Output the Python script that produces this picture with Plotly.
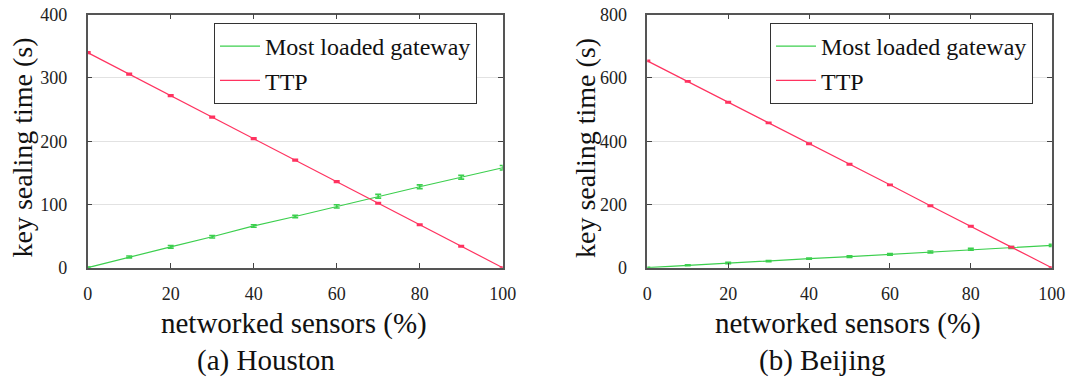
import plotly.graph_objects as go

sensors = [0, 10, 20, 30, 40, 50, 60, 70, 80, 90, 100]

houston_gateway = [0, 17, 33, 49, 66, 81, 97, 113, 128, 143, 158]
houston_gateway_err = [1, 1.5, 2, 2, 2, 2, 2.5, 3, 3, 3, 3.5]
houston_ttp = [340, 306, 272, 238, 204, 170, 136, 102, 68, 34, 0]
houston_ttp_err = [1.2, 1.2, 1.2, 1.2, 1.2, 1.2, 1.2, 1.2, 1.2, 1.2, 1.2]

beijing_gateway = [0, 7.5, 15, 21, 28.5, 35, 42, 50, 58, 64, 70.5]
beijing_gateway_err = [1, 1.5, 2, 2, 2, 2.5, 2.5, 3, 3, 3, 3.5]
beijing_ttp = [654, 589, 523, 458, 392, 327, 262, 196, 131, 65, 0]
beijing_ttp_err = [2, 2, 2, 2, 2, 2, 2, 2, 2, 2, 2]

GREEN = "#3ccf4e"
RED = "#ff3360"
FONT = "Liberation Serif"
W, H = 1077, 379

fig = go.Figure()

def add(x, y, err, color, name, xa, ya, legend, show):
    fig.add_trace(go.Scatter(
        x=x, y=y, mode="lines", name=name,
        line=dict(color=color, width=1.2),
        error_y=dict(type="data", array=err, visible=True, color=color,
                     thickness=1.6, width=3),
        xaxis=xa, yaxis=ya, legend=legend, showlegend=show,
    ))

add(sensors, houston_gateway, houston_gateway_err, GREEN, "Most loaded gateway", "x", "y", "legend", True)
add(sensors, houston_ttp, houston_ttp_err, RED, "TTP", "x", "y", "legend", True)
add(sensors, beijing_gateway, beijing_gateway_err, GREEN, "Most loaded gateway", "x2", "y2", "legend2", True)
add(sensors, beijing_ttp, beijing_ttp_err, RED, "TTP", "x2", "y2", "legend2", True)

ydom = [1 - 267.7 / H, 1 - 14.7 / H]
axis_common = dict(
    showline=True, linecolor="#555555", linewidth=1.5, mirror="allticks",
    ticks="inside", ticklen=5, tickcolor="#444444", tickwidth=1,
    tickfont=dict(family=FONT, size=18, color="#222222"),
    zeroline=False, automargin=False,
)

legend_common = dict(
    xanchor="left", yanchor="top",
    bgcolor="white", bordercolor="#333333", borderwidth=1,
    font=dict(family=FONT, size=24, color="#111111"),
    itemwidth=40, tracegroupgap=0,
)

fig.update_layout(
    width=W, height=H,
    margin=dict(l=0, r=0, t=0, b=0, autoexpand=False),
    paper_bgcolor="white", plot_bgcolor="white",
    font=dict(family=FONT, color="#111111"),
    xaxis=dict(domain=[87.7 / W, 502.7 / W], range=[0, 100], dtick=20,
               showgrid=False, anchor="y", ticklabelstandoff=9, **axis_common),
    yaxis=dict(domain=ydom, range=[0, 400], dtick=100, showgrid=True,
               gridcolor="#e2e2e2", gridwidth=1, anchor="x",
               ticklabelstandoff=15, **axis_common),
    xaxis2=dict(domain=[647.3 / W, 1051.7 / W], range=[0, 100], dtick=20,
                showgrid=False, anchor="y2", ticklabelstandoff=9, **axis_common),
    yaxis2=dict(domain=ydom, range=[0, 800], dtick=200, showgrid=True,
                gridcolor="#e2e2e2", gridwidth=1, anchor="x2",
                ticklabelstandoff=15, **axis_common),
    legend=dict(x=214 / W, y=1 - 23 / H, **legend_common),
    legend2=dict(x=770 / W, y=1 - 23 / H, **legend_common),
)

def ann(text, x, y, size, angle=0):
    fig.add_annotation(text=text, x=x / W, y=1 - y / H, xref="paper", yref="paper",
                       showarrow=False, textangle=angle,
                       font=dict(family=FONT, size=size, color="#111111"),
                       xanchor="center", yanchor="middle")

ann("networked sensors (%)", 294, 323, 29)
ann("networked sensors (%)", 848, 323, 29)
ann("key sealing time (s)", 22.5, 148, 28, -90)
ann("key sealing time (s)", 586, 148, 28, -90)
ann("(a) Houston", 266, 360, 29)
ann("(b) Beijing", 822, 360, 29)

fig.write_html(
    "out.html",
    config={"displayModeBar": False},
    post_script="document.body.style.margin='0px';document.body.style.padding='0px';document.body.style.overflow='hidden';",
)
